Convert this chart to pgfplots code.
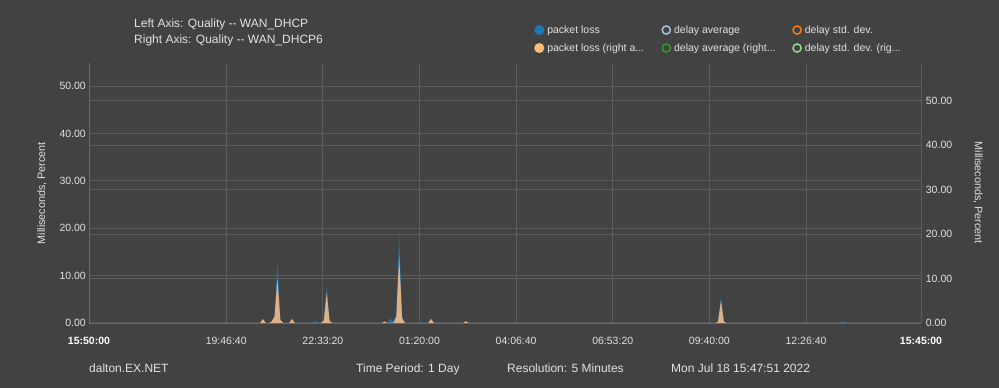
\documentclass[border=0pt]{standalone}
\usepackage{pgfplots}
\pgfplotsset{compat=1.18}
\usepackage{fontspec}
\setmainfont{Liberation Sans}
\definecolor{bgc}{RGB}{66,66,66}
\definecolor{gridc}{RGB}{92,92,92}
\definecolor{axc}{RGB}{106,106,106}
\definecolor{txt}{RGB}{226,226,226}
\definecolor{c1}{HTML}{1F77B4}
\definecolor{c2}{HTML}{AEC7E8}
\definecolor{c3}{HTML}{FF7F0E}
\definecolor{c4}{HTML}{FFBB78}
\definecolor{c5}{HTML}{2CA02C}
\definecolor{c6}{HTML}{98DF8A}
\definecolor{orfill}{RGB}{222,178,136}
\definecolor{blfill}{RGB}{36,112,166}

\pgfplotstableread{
t v
0 0
18900 0
19200 0.8
19500 12.9
19800 0.6
20100 0
23100 0
23400 0.4
23700 0
24000 0
24300 0.5
24600 8.0
24900 0.4
25200 0
30900 0
31200 0.9
31500 0.3
31800 1.6
32100 18.9
32400 1.2
32700 0
34200 0
34500 0.2
34800 0
64800 0
65100 0.3
65400 5.5
65700 0.3
66000 0
77700 0
78000 0.3
78300 0
86100 0
}\lossleft

\pgfplotstableread{
t v
0 0
17700 0
18000 0.9
18300 0
18600 0
18900 0.3
19200 1.5
19500 10
19800 0.7
20100 0
20700 0
21000 0.9
21300 0
24000 0
24300 0.5
24600 6.8
24900 0.4
25200 0
30300 0
30600 0.35
30900 0
31500 0
31800 1.4
32100 15
32400 1.1
32700 0
35100 0
35400 0.9
35700 0
38700 0
39000 0.4
39300 0
64800 0
65100 0.3
65400 5.0
65700 0.3
66000 0
86100 0
}\lossright

\pgfplotsset{
  base/.style={
    scale only axis, width=832bp, height=260bp,
    at={(89bp,65bp)}, anchor=south west,
    xmin=0, xmax=86100, ymin=0,
    scaled x ticks=false, scaled y ticks=false,
    major tick length=0pt,
    tick style={draw=none},
    grid style={draw=gridc, line width=0.8bp},
    axis line style={draw=axc, line width=0.9bp},
    ticklabel style={font=\fontsize{10.5bp}{12bp}\selectfont, text=txt},
    label style={font=\fontsize{10.8bp}{12bp}\selectfont, text=txt},
  }
}

\begin{document}
\begin{tikzpicture}
\useasboundingbox (0,0) rectangle (999bp,388bp);
\fill[bgc] (0,0) rectangle (999bp,388bp);

% right axis: grid, ticks, label
\begin{axis}[base, ymax=58.4,
  axis x line=none, axis y line*=right,
  ytick={0,10,20,30,40,50},
  yticklabels={0.00,10.00,20.00,30.00,40.00,50.00},
  ymajorgrids,
  yticklabel style={anchor=west, xshift=4.7bp, inner sep=0pt},
  ylabel={Milliseconds, Percent},
  ylabel style={at={(axis description cs:1.0685,0.5)}, anchor=center, rotate=180},
]
\end{axis}

% left axis: blue packet loss
\begin{axis}[base, ymax=54.85,
  axis x line*=bottom, axis y line*=left,
  xtick={0,14200,24200,34200,44200,54200,64200,74200,86100},
  xticklabels={\textbf{\color{white}15:50:00},19:46:40,22:33:20,01:20:00,04:06:40,06:53:20,09:40:00,12:26:40,\textbf{\color{white}15:45:00}},
  xticklabel style={anchor=center, yshift=-18bp, inner sep=0pt},
  xmajorgrids,
  ytick={0,10,20,30,40,50},
  yticklabels={0.00,10.00,20.00,30.00,40.00,50.00},
  ymajorgrids,
  yticklabel style={anchor=east, xshift=-3bp, inner sep=0pt},
  ylabel={Milliseconds, Percent},
  ylabel style={at={(axis description cs:-0.0565,0.5)}, anchor=center},
]
\addplot[draw=none, fill=blfill] table[x=t, y=v] {\lossleft} \closedcycle;
\end{axis}

% right axis data: orange packet loss + legend
\begin{axis}[base, ymax=58.4, hide axis,
  legend columns=3,
  legend cell align=left,
  legend style={at={(0.5352,1.146)}, anchor=north west, draw=none, fill=none,
    inner sep=0pt, outer sep=0pt, row sep=8bp,
    font=\fontsize{10.5bp}{12bp}\selectfont, text=txt,
    nodes={inner sep=0pt, outer sep=0pt},
    /tikz/every odd column/.append style={column sep=3bp},
    /tikz/every even column/.append style={column sep=0bp}},
]
\addplot[draw=none, fill=orfill, forget plot] table[x=t, y=v] {\lossright} \closedcycle;
\addlegendimage{legend image code/.code={\fill[c1] (4.8bp,0) circle (4.8bp);}}
\addlegendentry{\makebox[114.2bp][l]{packet loss}}
\addlegendimage{legend image code/.code={\draw[c2, line width=1.4bp] (4.8bp,0) circle (4.1bp);}}
\addlegendentry{\makebox[118.2bp][l]{delay average}}
\addlegendimage{legend image code/.code={\draw[c3, line width=1.4bp] (4.8bp,0) circle (4.1bp);}}
\addlegendentry{\makebox[100bp][l]{delay std. dev.}}
\addlegendimage{legend image code/.code={\fill[c4] (4.8bp,0) circle (4.8bp);}}
\addlegendentry{\makebox[114.2bp][l]{packet loss (right a...}}
\addlegendimage{legend image code/.code={\draw[c5, line width=1.4bp] (4.8bp,0) circle (4.1bp);}}
\addlegendentry{\makebox[118.2bp][l]{delay average (right...}}
\addlegendimage{legend image code/.code={\draw[c6, line width=1.4bp] (4.8bp,0) circle (4.1bp);}}
\addlegendentry{\makebox[100bp][l]{delay std. dev. (rig...}}
\end{axis}

\begin{scope}[every node/.style={text=txt, font=\fontsize{12bp}{14bp}\selectfont, inner sep=0pt}]
\node[anchor=base west] at (134bp,360.5bp) {Left Axis: Quality -{}- WAN\_DHCP};
\node[anchor=base west] at (134bp,344.7bp) {Right Axis: Quality -{}- WAN\_DHCP6};
\node[anchor=base west] at (89bp,16bp) {dalton.EX.NET};
\node[anchor=base west] at (356bp,16bp) {Time Period: 1 Day};
\node[anchor=base west] at (507bp,16bp) {Resolution: 5 Minutes};
\node[anchor=base west] at (671bp,16bp) {Mon Jul 18 15:47:51 2022};
\end{scope}
\end{tikzpicture}
\end{document}
